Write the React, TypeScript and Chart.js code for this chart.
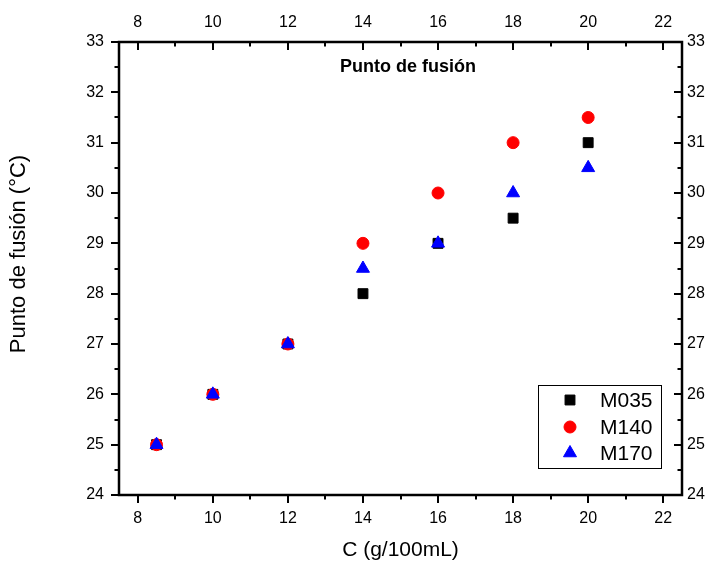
import { useEffect, useRef } from 'react';
import { Chart, registerables } from 'chart.js';
import { drawPoint } from 'chart.js/helpers';

Chart.register(...registerables);

// Concentration (g/100mL) and melting point (°C) for each sample
const concentrations = [8.5, 10, 12, 14, 16, 18, 20];
const m035 = [25, 26, 27, 28, 29, 29.5, 31];
const m140 = [25, 26, 27, 29, 30, 31, 31.5];
const m170 = [25, 26, 27, 28.5, 29, 30, 30.5];
const seriesNames = ['M035', 'M140', 'M170'];

// Axis ticks
const xTickValues = [8, 10, 12, 14, 16, 18, 20, 22];
const yTickValues = [24, 25, 26, 27, 28, 29, 30, 31, 32, 33];
const X_MIN = 7.5;
const X_MAX = 22.5;
const Y_MIN = 24;
const Y_MAX = 33;

const chartTitle = 'Punto de fusión';
const xTitle = 'C (g/100mL)';
const yTitle = 'Punto de fusión (°C)';

const FONT = "'Liberation Sans', Arial, sans-serif";

const toPoints = (ys: number[]) => concentrations.map((x, i) => ({ x, y: ys[i] }));

// Frame, inward/outward tick marks and text drawn over the plot
const framePlugin = {
  id: 'originFrame',
  afterDatasetsDraw(chart: any) {
    const { ctx, chartArea: a, scales } = chart;
    const sx = scales.x;
    const sy = scales.y;
    const major = 8;
    const minor = 4.5;
    const seg = (x1: number, y1: number, x2: number, y2: number) => {
      ctx.beginPath();
      ctx.moveTo(x1, y1);
      ctx.lineTo(x2, y2);
      ctx.stroke();
    };
    ctx.save();
    ctx.strokeStyle = '#000';
    ctx.lineWidth = 2;
    const xMinor: number[] = [];
    for (let i = 0; i < xTickValues.length - 1; i++) xMinor.push((xTickValues[i] + xTickValues[i + 1]) / 2);
    const yMinor: number[] = [];
    for (let i = 0; i < yTickValues.length - 1; i++) yMinor.push((yTickValues[i] + yTickValues[i + 1]) / 2);

    xTickValues.forEach((v) => {
      const px = Math.round(sx.getPixelForValue(v));
      seg(px, a.bottom, px, a.bottom + major);
      seg(px, a.top, px, a.top + major);
    });
    xMinor.forEach((v) => {
      const px = Math.round(sx.getPixelForValue(v));
      seg(px, a.bottom, px, a.bottom + minor);
      seg(px, a.top, px, a.top + minor);
    });
    yTickValues.forEach((v) => {
      const py = Math.round(sy.getPixelForValue(v));
      seg(a.left, py, a.left - major, py);
      seg(a.right, py, a.right - major, py);
    });
    yMinor.forEach((v) => {
      const py = Math.round(sy.getPixelForValue(v));
      seg(a.left, py, a.left - minor, py);
      seg(a.right, py, a.right - minor, py);
    });

    ctx.lineWidth = 2.5;
    ctx.strokeRect(a.left, a.top, a.right - a.left, a.bottom - a.top);

    ctx.fillStyle = '#000';
    ctx.textAlign = 'center';
    ctx.textBaseline = 'middle';
    ctx.font = `bold 18px ${FONT}`;
    ctx.fillText(chartTitle, 408, 67);

    ctx.font = `21px ${FONT}`;
    ctx.fillText(xTitle, (a.left + a.right) / 2, 550);

    ctx.translate(19, 254);
    ctx.rotate(-Math.PI / 2);
    ctx.font = `22px ${FONT}`;
    ctx.fillText(yTitle, 0, 0);
    ctx.restore();
  },
};

// Boxed legend in the lower right of the plot
const legendPlugin = {
  id: 'boxLegend',
  afterDraw(chart: any) {
    const { ctx } = chart;
    const box = { left: 538, top: 385, width: 123, height: 83 };
    ctx.save();
    ctx.fillStyle = '#fff';
    ctx.fillRect(box.left, box.top, box.width, box.height);
    ctx.strokeStyle = '#000';
    ctx.lineWidth = 1;
    ctx.strokeRect(box.left + 0.5, box.top + 0.5, box.width, box.height);
    const rows = [400, 427, 453];
    chart.data.datasets.forEach((ds: any, i: number) => {
      ctx.fillStyle = ds.backgroundColor;
      ctx.strokeStyle = ds.borderColor;
      drawPoint(
        ctx,
        { pointStyle: ds.pointStyle, radius: ds.pointRadius, rotation: 0, borderWidth: 1 },
        570,
        rows[i]
      );
      ctx.fillStyle = '#000';
      ctx.font = `21px ${FONT}`;
      ctx.textAlign = 'left';
      ctx.textBaseline = 'middle';
      ctx.fillText(ds.label, 600, rows[i] + 1);
    });
    ctx.restore();
  },
};

const tickFont = { family: FONT, size: 16 };

const baseScale = (position: string, padding: number, size: number, values: number[], min: number, max: number) => ({
  type: 'linear',
  position,
  min,
  max,
  grid: { display: false, drawTicks: false },
  border: { display: false },
  ticks: {
    font: tickFont,
    color: '#000',
    padding,
    autoSkip: false,
    maxRotation: 0,
    callback: (v: number) => String(v),
  },
  afterBuildTicks: (s: any) => {
    s.ticks = values.map((value) => ({ value }));
  },
  afterFit: (s: any) => {
    if (position === 'top' || position === 'bottom') s.height = size;
    else s.width = size;
  },
});

export default function App() {
  const canvasRef = useRef<HTMLCanvasElement | null>(null);

  useEffect(() => {
    if (!canvasRef.current) return;
    const chart = new Chart(canvasRef.current, {
      type: 'scatter',
      data: {
        datasets: [
          {
            label: seriesNames[0],
            data: toPoints(m035),
            pointStyle: 'rect',
            pointRadius: 7,
            backgroundColor: '#000000',
            borderColor: '#000000',
            borderWidth: 1,
            order: 3,
          },
          {
            label: seriesNames[1],
            data: toPoints(m140),
            pointStyle: 'circle',
            pointRadius: 6,
            backgroundColor: '#ff0000',
            borderColor: '#ff0000',
            borderWidth: 1,
            order: 2,
          },
          {
            label: seriesNames[2],
            data: toPoints(m170),
            pointStyle: 'triangle',
            pointRadius: 7.5,
            backgroundColor: '#0000ff',
            borderColor: '#0000ff',
            borderWidth: 1,
            order: 1,
          },
        ] as any,
      },
      options: {
        responsive: false,
        animation: false,
        layout: { padding: 0 },
        plugins: {
          legend: { display: false },
          tooltip: { enabled: false },
        },
        scales: {
          x: baseScale('bottom', 14, 68, xTickValues, X_MIN, X_MAX),
          x2: baseScale('top', 10, 42, xTickValues, X_MIN, X_MAX),
          y: baseScale('left', 15, 119, yTickValues, Y_MIN, Y_MAX),
          y2: baseScale('right', 5, 28, yTickValues, Y_MIN, Y_MAX),
        } as any,
      },
      plugins: [framePlugin, legendPlugin],
    });
    return () => chart.destroy();
  }, []);

  return (
    <div style={{ position: 'absolute', left: 0, top: 0, width: 710, height: 563, background: '#fff' }}>
      <canvas ref={canvasRef} width={710} height={563} />
    </div>
  );
}
